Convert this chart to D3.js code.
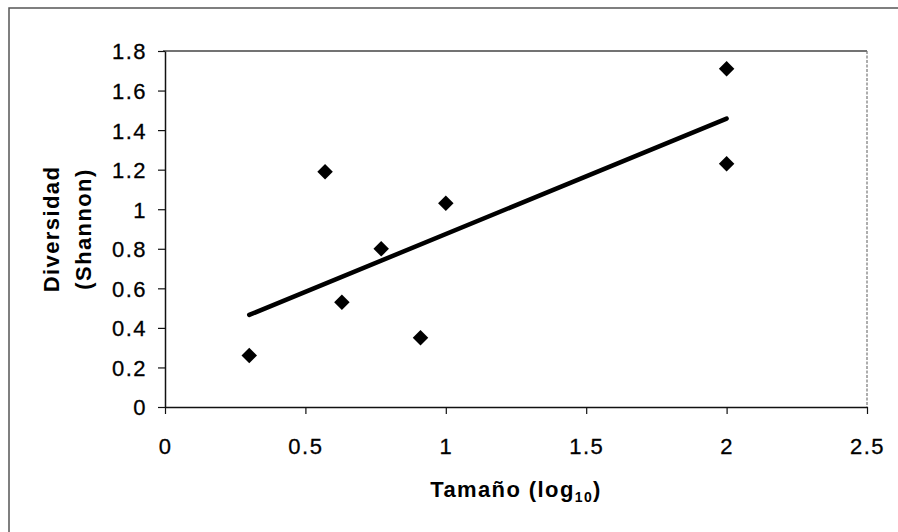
<!DOCTYPE html>
<html>
<head>
<meta charset="utf-8">
<script src="https://cdn.jsdelivr.net/npm/d3@7"></script>
<style>
  body { margin: 0; background: #fff; }
  text { font-family: "Liberation Sans", Arial, sans-serif; fill: #000; }
  .tick text { font-size: 22px; letter-spacing: 1.5px; stroke: #000; stroke-width: 0.3px; }
</style>
</head>
<body>
<div id="chart-area"></div>
<script>
// data
var tamano = [0.30, 0.57, 0.63, 0.77, 0.91, 1.00, 2.00, 2.00];
var diversidad = [0.26, 1.19, 0.53, 0.80, 0.35, 1.03, 1.71, 1.23];
var xTicks = [0, 0.5, 1, 1.5, 2, 2.5];
var yTicks = [0, 0.2, 0.4, 0.6, 0.8, 1, 1.2, 1.4, 1.6, 1.8];

var W = 898, H = 532;
var margins = { top: 51, bottom: 125, left: 165, right: 31 };
var width = W - margins.left - margins.right;
var height = H - margins.top - margins.bottom;

var svg = d3.select("#chart-area")
	.append("svg")
		.attr("width", W)
		.attr("height", H);

// outer frame (left and top only visible)
svg.append("path")
	.attr("d", "M9,532 L9,8 L898,8")
	.attr("fill", "none")
	.attr("stroke", "#555")
	.attr("stroke-width", 1.5);

var g = svg.append("g")
	.attr("transform", `translate(${margins.left}, ${margins.top})`);

var x = d3.scaleLinear().domain([0, 2.5]).range([0, width]);
var y = d3.scaleLinear().domain([0, 1.8]).range([height, 0]);

// plot area border top / right
g.append("line")
	.attr("x1", -2).attr("x2", width).attr("y1", 0).attr("y2", 0)
	.attr("stroke", "#444").attr("stroke-width", 1.5);
g.append("line")
	.attr("x1", width).attr("x2", width).attr("y1", 0).attr("y2", height)
	.attr("stroke", "#777").attr("stroke-width", 1.2)
	.attr("stroke-dasharray", "3,1.5");

var xAxisCall = d3.axisBottom(x)
	.tickValues(xTicks)
	.tickFormat(d3.format(""))
	.tickSizeInner(7).tickSizeOuter(0).tickPadding(24);
var yAxisCall = d3.axisLeft(y)
	.tickValues(yTicks)
	.tickFormat(d3.format(""))
	.tickSizeInner(7).tickSizeOuter(0).tickPadding(11);

var xAxisGroup = g.append("g")
	.attr("transform", "translate(0, " + height + ")")
	.call(xAxisCall);
var yAxisGroup = g.append("g")
	.call(yAxisCall);

[xAxisGroup, yAxisGroup].forEach(function(ax){
	ax.attr("font-size", null).attr("font-family", null);
	ax.select(".domain").attr("stroke", "#111").attr("stroke-width", 1.5);
	ax.selectAll(".tick line").attr("stroke", "#111").attr("stroke-width", 1.2);
	ax.selectAll(".tick text")
		.style("font-family", "'Liberation Sans', Arial, sans-serif")
		.style("font-size", "22px")
		.attr("fill", "#000");
});
yAxisGroup.selectAll(".tick text").attr("dy", "0.36em");

// trend line (least squares)
var mx = d3.mean(tamano), my = d3.mean(diversidad);
var sxy = d3.sum(tamano, (d, i) => (d - mx) * (diversidad[i] - my));
var sxx = d3.sum(tamano, d => (d - mx) * (d - mx));
var slope = sxy / sxx, icpt = my - slope * mx;
var x0 = d3.min(tamano), x1 = d3.max(tamano);

g.append("line")
	.attr("x1", x(x0)).attr("y1", y(icpt + slope * x0))
	.attr("x2", x(x1)).attr("y2", y(icpt + slope * x1))
	.attr("stroke", "#000")
	.attr("stroke-width", 4.5)
	.attr("stroke-linecap", "round");

// points
var diamond = d3.symbol().type(d3.symbolSquare).size(120);
g.selectAll(".pt")
	.data(tamano)
	.enter()
	.append("path")
		.attr("class", "pt")
		.attr("d", diamond)
		.attr("fill", "#000")
		.attr("transform", (d, i) => `translate(${x(d)}, ${y(diversidad[i])}) rotate(45)`);

// axis titles
var xt = g.append("text")
	.attr("x", width / 2)
	.attr("y", height + 90)
	.attr("text-anchor", "middle")
	.attr("font-size", "22px")
	.attr("font-weight", "bold")
	.attr("letter-spacing", "1.4px");
xt.append("tspan").text("Tamaño (log");
xt.append("tspan").attr("font-size", "14px").attr("dy", "5").text("10");
xt.append("tspan").attr("dy", "-5").text(")");

var yt = svg.append("text")
	.attr("transform", `translate(59, ${margins.top + height / 2}) rotate(-90)`)
	.attr("text-anchor", "middle")
	.attr("font-size", "22px")
	.attr("font-weight", "bold")
	.attr("letter-spacing", "1.4px");
yt.append("tspan").attr("x", 0).attr("y", 0).text("Diversidad");
yt.append("tspan").attr("x", 0).attr("y", 32).text("(Shannon)");
</script>
</body>
</html>
